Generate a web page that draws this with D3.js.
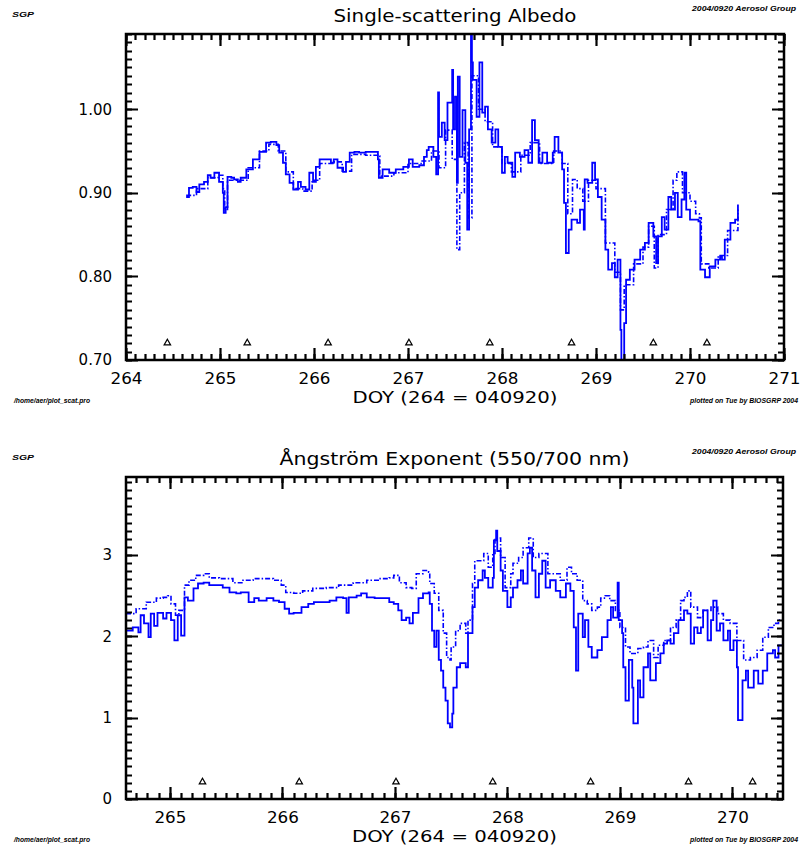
<!DOCTYPE html>
<html>
<head>
<meta charset="utf-8">
<script src="https://cdn.jsdelivr.net/npm/d3@7"></script>
<style>
  body { margin: 0; background: #fff; }
  text { font-family: "DejaVu Sans", sans-serif; }
  .tiny { font-family: "Liberation Sans", sans-serif; font-size: 7px; font-weight: bold; font-style: italic; }
</style>
</head>
<body>
<div id="chart"></div>
<script>
// tick values and markers
const doyTicks = [264, 265, 266, 267, 268, 269, 270, 271];
const albedoTicks = [0.70, 0.80, 0.90, 1.00];
const angTicks = [0, 1, 2, 3];
const markerDoy = [264.44, 265.29, 266.15, 267.01, 267.87, 268.74, 269.61, 270.18];

// single-scattering albedo, solid trace [doy, value]
const albedoSolid = [[264.64,0.895],[264.67,0.906],[264.71,0.907],[264.75,0.901],[264.78,0.910],[264.83,0.913],[264.87,0.921],[264.90,0.918],[264.94,0.924],[264.98,0.924],[264.99,0.913],[265.03,0.900],[265.04,0.876],[265.06,0.883],[265.08,0.919],[265.12,0.918],[265.15,0.916],[265.19,0.913],[265.22,0.918],[265.28,0.928],[265.35,0.940],[265.42,0.949],[265.49,0.960],[265.54,0.961],[265.60,0.957],[265.63,0.948],[265.67,0.936],[265.70,0.922],[265.74,0.912],[265.78,0.904],[265.83,0.913],[265.86,0.907],[265.91,0.904],[265.95,0.924],[265.99,0.913],[266.02,0.931],[266.06,0.940],[266.13,0.940],[266.18,0.936],[266.21,0.940],[266.25,0.930],[266.31,0.925],[266.34,0.937],[266.38,0.948],[266.43,0.949],[266.48,0.948],[266.55,0.949],[266.66,0.949],[266.68,0.940],[266.69,0.918],[266.73,0.928],[266.80,0.924],[266.87,0.928],[266.95,0.931],[267.01,0.940],[267.05,0.931],[267.12,0.933],[267.17,0.943],[267.20,0.951],[267.22,0.955],[267.27,0.943],[267.30,0.922],[267.32,1.020],[267.33,0.967],[267.36,0.984],[267.39,0.963],[267.42,1.008],[267.47,1.047],[267.48,0.976],[267.50,1.015],[267.52,0.912],[267.53,1.039],[267.55,0.943],[267.58,0.999],[267.61,0.936],[267.63,0.856],[267.65,0.976],[267.67,1.095],[267.68,1.056],[267.69,1.035],[267.73,0.991],[267.76,1.056],[267.79,0.996],[267.82,1.003],[267.85,0.976],[267.89,0.960],[267.93,0.976],[267.96,0.955],[268.00,0.924],[268.03,0.943],[268.06,0.936],[268.11,0.919],[268.14,0.948],[268.19,0.943],[268.24,0.951],[268.28,0.936],[268.32,0.987],[268.35,0.963],[268.39,0.936],[268.43,0.948],[268.48,0.936],[268.54,0.948],[268.56,0.967],[268.60,0.948],[268.64,0.928],[268.66,0.888],[268.68,0.828],[268.71,0.856],[268.74,0.868],[268.80,0.864],[268.83,0.880],[268.87,0.856],[268.88,0.916],[268.91,0.912],[268.96,0.936],[268.99,0.916],[269.02,0.895],[269.06,0.868],[269.10,0.832],[269.13,0.808],[269.17,0.816],[269.20,0.799],[269.23,0.820],[269.26,0.736],[269.27,0.700],[269.30,0.744],[269.32,0.796],[269.36,0.808],[269.41,0.820],[269.47,0.832],[269.52,0.840],[269.56,0.864],[269.61,0.848],[269.64,0.816],[269.66,0.848],[269.70,0.871],[269.73,0.856],[269.77,0.895],[269.80,0.880],[269.84,0.900],[269.87,0.871],[269.91,0.892],[269.94,0.924],[269.96,0.880],[270.00,0.868],[270.05,0.868],[270.09,0.866],[270.11,0.808],[270.16,0.799],[270.21,0.812],[270.27,0.820],[270.32,0.824],[270.34,0.820],[270.37,0.844],[270.43,0.864],[270.48,0.868],[270.51,0.886]];

// single-scattering albedo, dash-dot trace
const albedoDashed = [[264.64,0.897],[264.75,0.905],[264.87,0.918],[264.98,0.921],[265.03,0.905],[265.05,0.880],[265.08,0.915],[265.20,0.915],[265.30,0.930],[265.42,0.950],[265.52,0.958],[265.62,0.950],[265.70,0.925],[265.78,0.905],[265.88,0.902],[265.98,0.915],[266.06,0.935],[266.20,0.937],[266.30,0.926],[266.40,0.946],[266.55,0.945],[266.68,0.944],[266.70,0.920],[266.85,0.924],[267.00,0.935],[267.15,0.938],[267.25,0.950],[267.33,0.930],[267.40,0.975],[267.47,0.940],[267.52,0.832],[267.55,0.900],[267.60,0.960],[267.64,0.870],[267.68,1.040],[267.75,1.000],[267.82,0.985],[267.90,0.955],[268.00,0.935],[268.10,0.925],[268.20,0.945],[268.30,0.960],[268.40,0.935],[268.55,0.950],[268.64,0.935],[268.70,0.875],[268.75,0.916],[268.80,0.905],[268.86,0.890],[268.92,0.915],[269.00,0.905],[269.10,0.840],[269.20,0.805],[269.26,0.760],[269.30,0.790],[269.40,0.815],[269.50,0.835],[269.56,0.860],[269.62,0.810],[269.66,0.850],[269.75,0.880],[269.82,0.915],[269.86,0.925],[269.92,0.900],[270.00,0.890],[270.06,0.875],[270.10,0.870],[270.12,0.815],[270.20,0.810],[270.30,0.825],[270.40,0.855],[270.51,0.880]];

// Angstrom exponent, solid trace
const angSolid = [[264.61,2.07],[264.67,2.11],[264.72,2.05],[264.74,2.26],[264.77,2.16],[264.81,1.99],[264.83,2.28],[264.86,2.13],[264.89,2.29],[264.94,2.22],[264.97,2.29],[265.01,2.20],[265.04,1.95],[265.07,2.26],[265.10,2.01],[265.13,2.48],[265.16,2.44],[265.21,2.59],[265.25,2.65],[265.30,2.66],[265.35,2.63],[265.41,2.63],[265.47,2.60],[265.53,2.54],[265.59,2.53],[265.63,2.54],[265.70,2.42],[265.75,2.47],[265.79,2.44],[265.86,2.47],[265.92,2.44],[265.97,2.42],[266.02,2.34],[266.06,2.28],[266.10,2.29],[266.17,2.36],[266.23,2.40],[266.28,2.42],[266.36,2.42],[266.42,2.44],[266.48,2.48],[266.54,2.47],[266.57,2.29],[266.59,2.48],[266.66,2.50],[266.70,2.53],[266.75,2.48],[266.82,2.47],[266.90,2.47],[266.95,2.42],[266.99,2.40],[267.03,2.32],[267.06,2.20],[267.10,2.23],[267.13,2.16],[267.16,2.29],[267.21,2.47],[267.25,2.53],[267.30,2.54],[267.31,2.40],[267.33,2.07],[267.35,1.87],[267.37,2.07],[267.39,1.71],[267.41,1.58],[267.43,1.37],[267.45,1.21],[267.47,0.93],[267.49,0.88],[267.51,1.05],[267.52,1.37],[267.55,1.62],[267.58,1.67],[267.63,1.62],[267.65,2.04],[267.69,2.36],[267.71,2.60],[267.74,2.69],[267.78,2.81],[267.80,2.72],[267.83,2.60],[267.87,2.72],[267.88,3.18],[267.90,3.30],[267.91,3.05],[267.94,2.81],[267.96,2.56],[268.00,2.36],[268.03,2.48],[268.05,2.60],[268.09,2.69],[268.12,2.81],[268.14,2.65],[268.18,3.02],[268.20,3.09],[268.22,2.81],[268.25,2.48],[268.28,2.77],[268.31,2.93],[268.34,2.60],[268.38,2.69],[268.43,2.56],[268.47,2.48],[268.52,2.65],[268.56,2.56],[268.59,2.11],[268.61,1.58],[268.63,2.28],[268.67,1.99],[268.69,2.20],[268.72,1.87],[268.75,1.74],[268.80,1.83],[268.84,1.99],[268.89,2.20],[268.92,2.36],[268.94,2.23],[268.98,2.66],[268.99,2.20],[269.02,2.04],[269.03,1.62],[269.05,1.21],[269.08,1.71],[269.11,1.37],[269.12,0.93],[269.16,1.46],[269.18,1.25],[269.21,1.62],[269.25,1.79],[269.27,1.46],[269.32,1.67],[269.36,1.79],[269.39,1.91],[269.42,1.95],[269.45,1.91],[269.48,2.04],[269.52,2.20],[269.57,2.32],[269.60,2.28],[269.63,1.91],[269.66,2.11],[269.69,2.04],[269.72,2.11],[269.74,2.32],[269.78,1.95],[269.81,2.20],[269.83,2.44],[269.86,2.07],[269.89,2.16],[269.92,1.95],[269.96,2.07],[269.98,1.83],[270.01,1.95],[270.04,1.62],[270.05,0.97],[270.09,1.46],[270.12,1.58],[270.14,1.37],[270.19,1.58],[270.23,1.42],[270.27,1.58],[270.31,1.79],[270.36,1.83],[270.38,1.74],[270.41,1.89],[270.45,1.93]];

// Angstrom exponent, dash-dot trace
const angDashed = [[264.61,2.28],[264.70,2.34],[264.79,2.42],[264.88,2.47],[264.94,2.48],[264.98,2.50],[265.01,2.40],[265.05,2.26],[265.08,2.32],[265.13,2.63],[265.17,2.69],[265.23,2.75],[265.30,2.77],[265.35,2.72],[265.44,2.71],[265.56,2.66],[265.65,2.69],[265.74,2.71],[265.83,2.71],[265.92,2.69],[265.99,2.63],[266.03,2.54],[266.10,2.53],[266.18,2.56],[266.27,2.59],[266.39,2.60],[266.50,2.63],[266.63,2.66],[266.75,2.69],[266.86,2.71],[266.95,2.72],[266.99,2.75],[267.04,2.66],[267.10,2.60],[267.15,2.59],[267.19,2.77],[267.25,2.81],[267.30,2.79],[267.31,2.65],[267.35,2.53],[267.39,2.32],[267.43,2.04],[267.46,1.74],[267.49,1.71],[267.50,1.87],[267.54,2.07],[267.58,2.16],[267.63,2.04],[267.65,2.20],[267.69,2.65],[267.71,2.93],[267.76,2.93],[267.79,3.02],[267.83,2.85],[267.87,3.02],[267.89,3.21],[267.94,2.97],[267.98,2.60],[268.03,2.77],[268.05,2.90],[268.10,2.97],[268.14,3.09],[268.19,3.21],[268.23,2.97],[268.28,3.02],[268.31,3.02],[268.36,2.77],[268.41,2.77],[268.47,2.69],[268.53,2.85],[268.57,2.77],[268.62,2.69],[268.67,2.44],[268.71,2.40],[268.75,2.32],[268.80,2.36],[268.83,2.47],[268.87,2.50],[268.91,2.44],[268.96,2.32],[269.00,2.11],[269.05,1.87],[269.09,1.79],[269.16,1.85],[269.21,1.87],[269.25,1.95],[269.30,1.74],[269.34,1.89],[269.39,1.95],[269.45,2.11],[269.50,2.20],[269.54,2.44],[269.57,2.48],[269.60,2.56],[269.63,2.36],[269.69,2.23],[269.74,2.32],[269.81,2.36],[269.87,2.28],[269.92,2.20],[269.98,2.16],[270.04,1.95],[270.10,1.71],[270.16,1.74],[270.22,1.83],[270.27,1.99],[270.32,2.11],[270.37,2.16],[270.41,2.20],[270.45,2.28]];

const blue = '#0000ff';

// inward tick marks on one edge as a single path, placed through the panel's scale
function tickMarks(g, vals, scale, edge, pos, len) {
  const horiz = edge === 'bottom' || edge === 'top';
  const dir = (edge === 'bottom' || edge === 'right') ? -1 : 1;
  const p = d3.path();
  vals.forEach(v => {
    const s = Math.round(scale(v)) + 0.5;
    if (horiz) { p.moveTo(s, pos); p.lineTo(s, pos + dir * len); }
    else { p.moveTo(pos, s); p.lineTo(pos + dir * len, s); }
  });
  g.append('path')
    .attr('d', p.toString())
    .attr('fill', 'none')
    .attr('stroke', '#000')
    .attr('stroke-width', 2.2);
}

function drawPanel(svg, cfg) {
  const x = d3.scaleLinear().domain(cfg.xDomain).range([cfg.left, cfg.right]);
  const y = d3.scaleLinear().domain(cfg.yDomain).range([cfg.bottom, cfg.top]);
  const g = svg.append('g');

  const clipId = 'clip' + cfg.id;
  svg.append('clipPath').attr('id', clipId)
    .append('rect')
    .attr('x', cfg.left).attr('y', cfg.top)
    .attr('width', cfg.right - cfg.left).attr('height', cfg.bottom - cfg.top);

  const line = d3.line()
    .x(d => x(d[0]))
    .y(d => y(d[1]))
    .curve(d3.curveStepAfter);

  const plot = g.append('g').attr('clip-path', `url(#${clipId})`);
  plot.append('path')
    .datum(cfg.dashed)
    .attr('fill', 'none')
    .attr('stroke', blue)
    .attr('stroke-width', 1.6)
    .attr('stroke-dasharray', '5,2,1.5,2')
    .attr('d', line);
  plot.append('path')
    .datum(cfg.solid)
    .attr('fill', 'none')
    .attr('stroke', blue)
    .attr('stroke-width', 1.8)
    .attr('d', line);

  // tick marks: 0.1 day minor, major at whole days
  const xMinor = d3.range(Math.ceil(cfg.xDomain[0] * 10), Math.floor(cfg.xDomain[1] * 10) + 1).map(v => v / 10);
  const yMinor = d3.range(Math.ceil(cfg.yDomain[0] / cfg.yMinorStep - 1e-6), Math.floor(cfg.yDomain[1] / cfg.yMinorStep + 1e-6) + 1).map(v => v * cfg.yMinorStep);
  const xMajor = doyTicks.filter(v => v >= cfg.xDomain[0] && v <= cfg.xDomain[1]);

  tickMarks(g, xMinor, x, 'bottom', cfg.bottom, 6);
  tickMarks(g, xMinor, x, 'top', cfg.top, 6);
  tickMarks(g, yMinor, y, 'left', cfg.left, 6);
  tickMarks(g, yMinor, y, 'right', cfg.right, 6);
  tickMarks(g, xMajor, x, 'bottom', cfg.bottom, 12);
  tickMarks(g, xMajor, x, 'top', cfg.top, 12);
  tickMarks(g, cfg.yTicks, y, 'left', cfg.left, 12);
  tickMarks(g, cfg.yTicks, y, 'right', cfg.right, 12);

  // tick labels
  g.append('g').attr('transform', `translate(0,${cfg.bottom})`)
    .call(d3.axisBottom(x).tickValues(xMajor).tickSize(0).tickPadding(13).tickFormat(d3.format('d')))
    .call(s => s.select('.domain').remove())
    .call(s => s.selectAll('text').attr('font-size', 15).attr('fill', '#000')
      .attr('textLength', 32).attr('lengthAdjust', 'spacingAndGlyphs'));
  g.append('g').attr('transform', `translate(${cfg.left},0)`)
    .call(d3.axisLeft(y).tickValues(cfg.yTicks).tickSize(0).tickPadding(14).tickFormat(cfg.yFormat))
    .call(s => s.select('.domain').remove())
    .call(s => s.selectAll('text').attr('font-size', 15).attr('fill', '#000'));

  // frame
  g.append('rect')
    .attr('x', cfg.left).attr('y', cfg.top)
    .attr('width', cfg.right - cfg.left).attr('height', cfg.bottom - cfg.top)
    .attr('fill', 'none').attr('stroke', '#000').attr('stroke-width', 2.5);

  // small triangle markers
  g.selectAll('path.marker')
    .data(markerDoy.filter(v => v > cfg.xDomain[0] && v < cfg.xDomain[1]))
    .enter().append('path')
    .attr('class', 'marker')
    .attr('transform', d => `translate(${x(d)},${cfg.bottom - 17})`)
    .attr('d', d3.symbol(d3.symbolTriangle).size(18))
    .attr('fill', 'none').attr('stroke', '#000').attr('stroke-width', 1.2);

  // titles
  const mid = (cfg.left + cfg.right) / 2;
  g.append('text').attr('x', mid).attr('y', cfg.top - 12)
    .attr('text-anchor', 'middle').attr('font-size', 17)
    .attr('textLength', cfg.titleWidth).attr('lengthAdjust', 'spacingAndGlyphs')
    .text(cfg.title);
  g.append('text').attr('x', mid).attr('y', cfg.bottom + 43)
    .attr('text-anchor', 'middle').attr('font-size', 16)
    .attr('textLength', 205).attr('lengthAdjust', 'spacingAndGlyphs')
    .text('DOY (264 = 040920)');

  // small annotation text in the corners
  g.append('text').attr('class', 'tiny').attr('x', 12).attr('y', cfg.top - 17)
    .attr('textLength', 22).attr('lengthAdjust', 'spacingAndGlyphs').text('SGP');
  g.append('text').attr('class', 'tiny').attr('x', 692).attr('y', cfg.top - 23)
    .attr('textLength', 104).attr('lengthAdjust', 'spacingAndGlyphs').text('2004/0920 Aerosol Group');
  g.append('text').attr('class', 'tiny').attr('x', 14).attr('y', cfg.bottom + 43)
    .attr('textLength', 76).attr('lengthAdjust', 'spacingAndGlyphs').text('/home/aer/plot_scat.pro');
  g.append('text').attr('class', 'tiny').attr('x', 690).attr('y', cfg.bottom + 43)
    .attr('font-size', 6)
    .attr('textLength', 108).attr('lengthAdjust', 'spacingAndGlyphs').text('plotted on Tue by BIOSGRP 2004');
}

const svg = d3.select('#chart').append('svg')
  .attr('width', 803).attr('height', 852);

drawPanel(svg, {
  id: 'a', title: 'Single-scattering Albedo', titleWidth: 243,
  left: 126, right: 784, top: 34, bottom: 360,
  xDomain: [264, 271], yDomain: [0.70, 1.09],
  yTicks: albedoTicks, yMinorStep: 0.01, yFormat: d3.format('.2f'),
  solid: albedoSolid, dashed: albedoDashed
});

drawPanel(svg, {
  id: 'b', title: 'Ångström Exponent (550/700 nm)', titleWidth: 350,
  left: 126, right: 783, top: 477, bottom: 799,
  xDomain: [264.61, 270.45], yDomain: [0, 3.96],
  yTicks: angTicks, yMinorStep: 0.1, yFormat: d3.format('d'),
  solid: angSolid, dashed: angDashed
});
</script>
</body>
</html>
